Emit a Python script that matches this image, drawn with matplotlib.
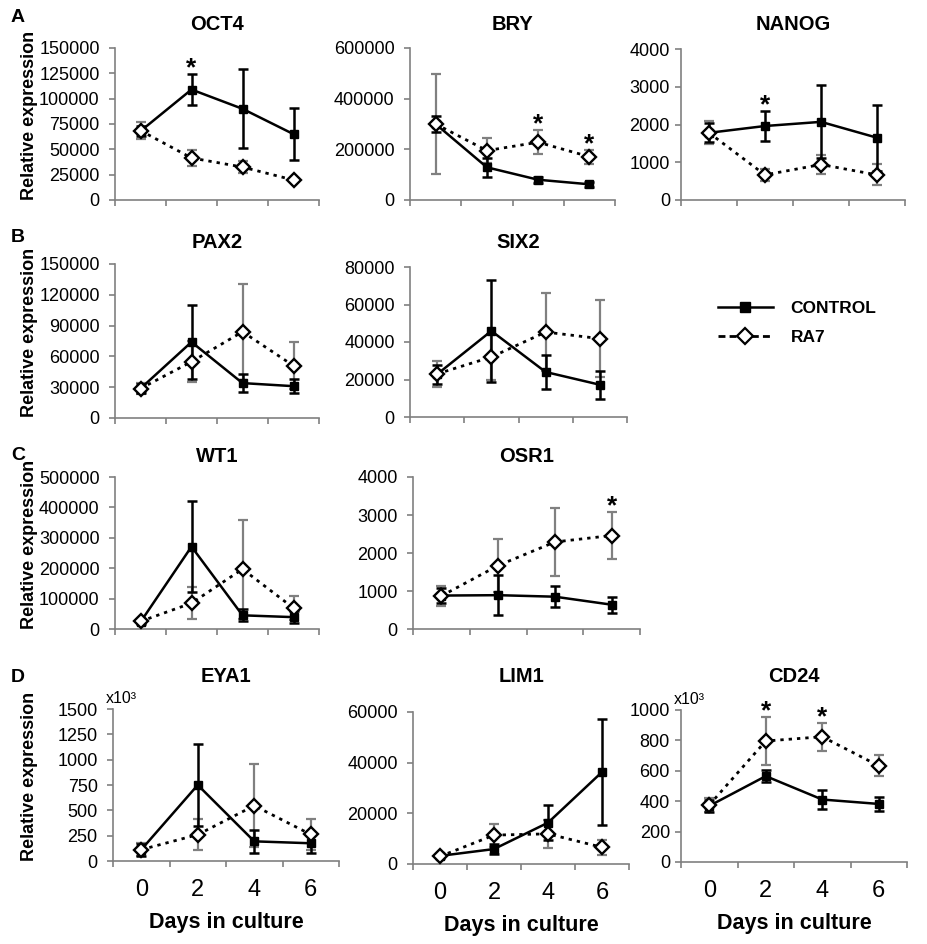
import matplotlib
matplotlib.use("Agg")
import matplotlib.pyplot as plt
from matplotlib.lines import Line2D

plt.rcParams['font.family'] = ['Liberation Sans', 'DejaVu Sans']

days = [0, 2, 4, 6]
genes = ['OCT4', 'BRY', 'NANOG', 'PAX2', 'SIX2', 'WT1', 'OSR1', 'EYA1', 'LIM1', 'CD24']

# mean / error, one row per gene (EYA1 and CD24 in x10^3)
ctrl_mean = [
    [68000, 109000, 90000, 65000],
    [300000, 129000, 80000, 62000],
    [1780, 1960, 2070, 1650],
    [28700, 74000, 34000, 31000],
    [22800, 45900, 24000, 17200],
    [23000, 271000, 45000, 39000],
    [880, 890, 850, 640],
    [112, 750, 194, 175],
    [3200, 5900, 16300, 36300],
    [369, 565, 411, 382],
]
ctrl_err = [
    [5000, 15000, 39000, 26000],
    [30000, 38000, 12000, 10000],
    [250, 400, 970, 870],
    [4000, 36000, 9000, 7000],
    [5000, 27000, 9000, 7500],
    [5000, 150000, 20000, 20000],
    [200, 530, 280, 210],
    [60, 400, 115, 100],
    [800, 2000, 7000, 21000],
    [40, 40, 62, 44],
]
ra7_mean = [
    [68500, 41500, 32500, 19700],
    [300000, 195000, 228000, 171000],
    [1780, 665, 940, 665],
    [28700, 54800, 84000, 50900],
    [23000, 32000, 45300, 41800],
    [25000, 85000, 197000, 69000],
    [870, 1670, 2290, 2460],
    [112, 260, 546, 262],
    [3000, 11400, 11900, 6600],
    [375, 796, 824, 633],
]
ra7_err = [
    [8000, 8000, 5500, 2000],
    [198000, 48000, 47000, 27000],
    [300, 150, 250, 280],
    [5000, 20000, 47000, 23000],
    [6800, 12500, 21000, 20500],
    [6000, 53000, 163000, 38000],
    [260, 700, 900, 620],
    [65, 155, 410, 150],
    [500, 4500, 5500, 3000],
    [45, 157, 93, 70],
]
y_max = [150000, 600000, 4000, 150000, 80000, 500000, 4000, 1500, 60000, 1000]
y_step = [25000, 200000, 1000, 30000, 20000, 100000, 1000, 250, 20000, 200]
# (gene, day index, series) for significance stars
stars = [('OCT4', 1, 'ctrl'), ('BRY', 2, 'ra7'), ('BRY', 3, 'ra7'), ('NANOG', 1, 'ctrl'),
         ('OSR1', 3, 'ra7'), ('CD24', 1, 'ra7'), ('CD24', 2, 'ra7')]
scaled = ['EYA1', 'CD24']

W, H = 927, 944
# left, bottom, width, height in pixels
axes_px = [
    (115, 200, 204, 152), (410, 200, 205, 152), (681, 200, 224, 151),
    (115, 418, 204, 154), (410, 417, 217, 150),
    (115, 629, 204, 152), (413, 629, 227, 152),
    (113, 861, 226, 152), (413, 864, 216, 152), (681, 862, 226, 152),
]
title_y = [25, 25, 25, 242, 242, 457, 457, 677, 677, 677]
row_letters = [('A', 18), ('B', 237), ('C', 455), ('D', 677)]
grey = '#808080'

fig = plt.figure(figsize=(W / 100, H / 100), dpi=100)

for i, g in enumerate(genes):
    l, b, w, h = axes_px[i]
    ax = fig.add_axes([l / W, 1 - b / H, w / W, h / H])
    x = [k + 0.5 for k in range(len(days))]

    ax.errorbar(x, ra7_mean[i], yerr=ra7_err[i], fmt='none', ecolor=grey,
                elinewidth=1.6, capsize=3.5, capthick=1.6, zorder=2, clip_on=False)
    ax.errorbar(x, ctrl_mean[i], yerr=ctrl_err[i], fmt='none', ecolor='black',
                elinewidth=1.8, capsize=3.5, capthick=1.8, zorder=3, clip_on=False)
    ax.plot(x, ctrl_mean[i], color='black', lw=1.8, marker='s', ms=6, zorder=4, clip_on=False)
    ax.plot(x, ra7_mean[i], color='black', lw=2, ls=(0, (1.2, 1.8)), marker='D', ms=7.3,
            mfc='white', mec='black', mew=1.7, zorder=5, clip_on=False)

    ax.set_xlim(0, 4)
    ax.set_ylim(0, y_max[i])
    ax.set_yticks(range(0, y_max[i] + 1, y_step[i]))
    ax.set_xticks(range(5))
    ax.set_xticklabels([])
    ax.tick_params(axis='both', colors=grey, labelcolor='black', labelsize=13,
                   length=4, width=1.2, direction='out')
    ax.tick_params(axis='y', pad=7 if l < 600 else 4)
    for s in ['top', 'right']:
        ax.spines[s].set_visible(False)
    for s in ['left', 'bottom']:
        ax.spines[s].set_color(grey)
        ax.spines[s].set_linewidth(1.2)

    if i >= 7:
        ax.set_xticks(x, minor=True)
        ax.set_xticklabels([str(d) for d in days], minor=True)
        ax.tick_params(axis='x', which='minor', length=0, pad=13, labelsize=17)
        ax.set_xlabel('Days in culture', fontsize=15.5, fontweight='bold', labelpad=8)

    if g in scaled:
        ax.annotate('x10³', (0, 1), xycoords='axes fraction', xytext=(-5, 2),
                    textcoords='offset points', ha='left', va='bottom', fontsize=11.5)

    for sg, k, series in stars:
        if sg != g:
            continue
        if series == 'ctrl':
            top = ctrl_mean[i][k] + ctrl_err[i][k]
        else:
            top = ra7_mean[i][k] + ra7_err[i][k]
        ax.annotate('*', (x[k], top), xytext=(0, -1), textcoords='offset points',
                    ha='center', va='baseline', fontsize=19, fontweight='bold')

    fig.text((l + w / 2) / W, 1 - title_y[i] / H, g, ha='center', va='center',
             fontsize=14.5, fontweight='bold')
    if l < 200:
        fig.text(30 / W, 1 - (b - h / 2 - 9) / H, 'Relative expression', rotation=90,
                 ha='center', va='center', fontsize=13, fontweight='bold')

for letter, ly in row_letters:
    fig.text(18 / W, 1 - ly / H, letter, ha='center', va='center', fontsize=14,
             fontweight='bold')

handles = [
    Line2D([], [], color='black', lw=1.8, marker='s', ms=7),
    Line2D([], [], color='black', lw=2, ls=(0, (2.5, 1.5)), marker='D', ms=8,
           mfc='white', mec='black', mew=1.6),
]
fig.legend(handles, ['CONTROL', 'RA7'], loc='center left',
           bbox_to_anchor=(702 / W, 1 - 323 / H), frameon=False, handlelength=3.2,
           handletextpad=1.0, labelspacing=0.8, prop={'weight': 'bold', 'size': 12.5})

fig.savefig('out.png', dpi=100)
